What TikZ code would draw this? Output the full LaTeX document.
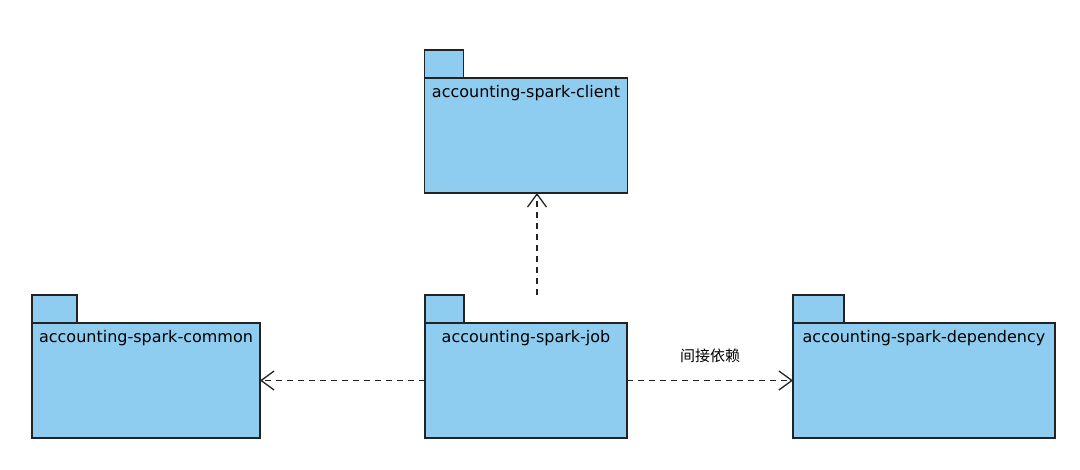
\documentclass[tikz,border=0pt]{standalone}
\usepackage{fontspec}
\setmainfont{DejaVu Sans}
\newfontfamily\cjk{Noto Sans CJK SC}
\usetikzlibrary{positioning, arrows.meta}
\definecolor{pkgblue}{RGB}{142,205,240}
\definecolor{pkgline}{RGB}{35,35,35}

\begin{document}
\begin{tikzpicture}[x=1pt, y=-1pt, node distance=130pt, line width=1.5pt]
            % Package styles
            \tikzstyle{body} = [rectangle, draw=pkgline, fill=pkgblue, minimum height=115pt, inner sep=0pt, outer sep=0pt]
            \tikzstyle{tab} = [rectangle, draw=pkgline, fill=pkgblue, minimum height=28pt, inner sep=0pt, outer sep=0pt, anchor=south west]
            \tikzstyle{pkgname} = [anchor=north, inner sep=4pt, yshift=-3pt, font=\fontsize{16}{18}\selectfont]
            \tikzstyle{dep} = [draw=pkgline, line width=1.3pt, dash pattern=on 6pt off 5pt, -{Straight Barb[length=13pt, width=19pt, line width=1.3pt]}]

            \useasboundingbox (0,0) rectangle (1080,470);

            % Package bodies
            \node [body, minimum width=202pt] (job) at (526,380.5) {};
            \node [body, minimum width=203pt, above=of job] (client) {};
            \node [body, minimum width=228pt, left=165pt of job] (common) {};
            \node [body, minimum width=262pt, right=166pt of job] (dependency) {};

            % Tabs on top
            \node [tab, minimum width=39pt] (job_tab) at (job.north west) {};
            \node [tab, minimum width=39pt] (client_tab) at (client.north west) {};
            \node [tab, minimum width=45pt] (common_tab) at (common.north west) {};
            \node [tab, minimum width=51pt] (dependency_tab) at (dependency.north west) {};

            % Package names
            \node [pkgname] (job_name) at (job.north) {accounting-spark-job};
            \node [pkgname] (client_name) at (client.north) {accounting-spark-client};
            \node [pkgname] (common_name) at (common.north) {accounting-spark-common};
            \node [pkgname] (dependency_name) at (dependency.north) {accounting-spark-dependency};

            % Dependencies
            \draw [dep] ([xshift=11pt]job.north |- job_tab.north) -- ([xshift=11pt]client.south);
            \draw [dep] (job.west) -- (common.east);
            \draw [dep] (job.east) -- (dependency.west)
                node [midway, above=14pt, font=\cjk\fontsize{15}{17}\selectfont] (indirect) {间接依赖};
        \end{tikzpicture}
\end{document}
